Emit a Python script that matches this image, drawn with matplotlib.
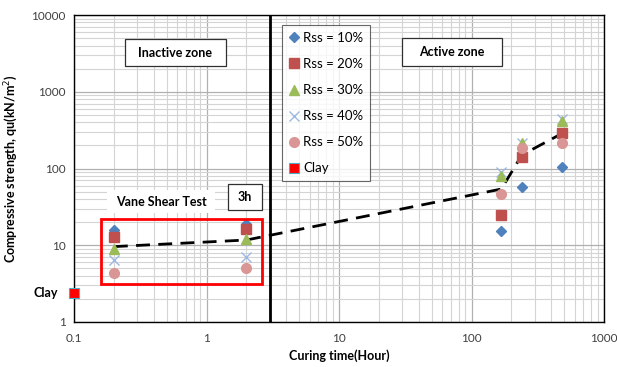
import matplotlib
matplotlib.use("Agg")
import matplotlib.pyplot as plt
from matplotlib.patches import Rectangle
from matplotlib.ticker import LogLocator, NullFormatter, FixedLocator, FixedFormatter

plt.rcParams['font.family'] = ['Lato', 'DejaVu Sans']

time = [0.2, 2, 168, 240, 480]
rss10 = [15.8, 19.0, 15.3, 58, 104]
rss20 = [12.7, 16.1, 24.8, 141, 288]
rss30 = [8.9, 12.2, 80, 217, 410]
rss40 = [6.4, 7.1, 89, 215, 440]
rss50 = [4.3, 5.0, 46.5, 183, 215]
clay_t = [0.1]
clay_q = [2.4]
trend_t = [0.2, 2, 168, 240, 480]
trend_q = [9.6, 11.7, 54, 150, 285]
xticks = [0.1, 1, 10, 100, 1000]
xticklabels = ['0.1', '1', '10', '100', '1000']
yticks = [1, 10, 100, 1000, 10000]
yticklabels = ['1', '10', '100', '1000', '10000']

fig = plt.figure(figsize=(6.17, 3.67), dpi=100)
ax = fig.add_axes([74/617, 45/367, 530/617, 307/367])
ax.set_xscale('log')
ax.set_yscale('log')
ax.set_xlim(0.1, 1000)
ax.set_ylim(1, 10000)

ax.xaxis.set_major_locator(FixedLocator(xticks))
ax.xaxis.set_major_formatter(FixedFormatter(xticklabels))
ax.yaxis.set_major_locator(FixedLocator(yticks))
ax.yaxis.set_major_formatter(FixedFormatter(yticklabels))
ax.xaxis.set_minor_locator(LogLocator(base=10, subs=range(2, 10), numticks=20))
ax.yaxis.set_minor_locator(LogLocator(base=10, subs=range(2, 10), numticks=20))
ax.xaxis.set_minor_formatter(NullFormatter())
ax.yaxis.set_minor_formatter(NullFormatter())
ax.grid(True, which='major', color='#b0b0b0', lw=0.9)
ax.grid(True, which='minor', color='#d4d4d4', lw=0.8)
ax.set_axisbelow(True)
ax.tick_params(which='both', length=0, labelsize=8.5, colors='#404040')
ax.tick_params(axis='x', pad=8)
ax.tick_params(axis='y', pad=6)
for s in ax.spines.values():
    s.set_color('black')
    s.set_linewidth(1.0)

ax.axvline(3, color='black', lw=2, zorder=2)
ax.plot(trend_t, trend_q, color='black', lw=2, ls=(0, (5, 3)), zorder=3)

ax.plot(time, rss10, ls='none', marker='D', ms=5.5, color='#4F81BD', label='Rss = 10%', zorder=4)
ax.plot(time, rss20, ls='none', marker='s', ms=6.8, color='#C0504D', label='Rss = 20%', zorder=4)
ax.plot(time, rss30, ls='none', marker='^', ms=7, color='#9BBB59', label='Rss = 30%', zorder=4)
ax.plot(time, rss40, ls='none', marker='x', ms=7, mew=1.0, color='#9DB8E3', label='Rss = 40%', zorder=3.9)
ax.plot(time, rss50, ls='none', marker='o', ms=7, color='#D99694', label='Rss = 50%', zorder=4)
ax.plot(clay_t, clay_q, ls='none', marker='s', ms=7, color='#FF0000', mec='#4BACC6', mew=0.8,
        label='Clay', zorder=5, clip_on=False)

leg = ax.legend(loc='upper left', bbox_to_anchor=(282.3/617, (367-25.3)/367),
                bbox_transform=fig.transFigure, frameon=True, fancybox=False,
                fontsize=9.5, handlelength=0.8, handletextpad=0.3, labelspacing=1.07,
                borderpad=0.5, borderaxespad=0)
leg.get_frame().set_edgecolor('#404040')
leg.get_frame().set_linewidth(0.8)

def fx(px):
    return px / 617
def fy(py):
    return (367 - py) / 367

# red rectangle
ax.add_patch(Rectangle((fx(100.7), fy(284.3)), fx(262) - fx(100.7), fy(218.7) - fy(284.3),
                       transform=fig.transFigure, fill=False, edgecolor='#FF0000', lw=2, zorder=6))

# Inactive zone box
fig.patches.append(Rectangle((fx(125), fy(66)), fx(225.7) - fx(125), fy(39.3) - fy(66),
                             transform=fig.transFigure, fc='white', ec='#303030', lw=0.9, zorder=7))
fig.text(fx(175.3), fy(52.7), 'Inactive zone', ha='center', va='center', fontsize=9,
         fontweight='bold', zorder=8)
fig.patches.append(Rectangle((fx(402), fy(66)), fx(501.7) - fx(402), fy(38.3) - fy(66),
                             transform=fig.transFigure, fc='white', ec='#303030', lw=0.9, zorder=7))
fig.text(fx(451.8), fy(52.2), 'Active zone', ha='center', va='center', fontsize=9,
         fontweight='bold', zorder=8)
# 3h box
fig.patches.append(Rectangle((fx(228), fy(210)), fx(262) - fx(228), fy(184) - fy(210),
                             transform=fig.transFigure, fc='white', ec='#303030', lw=0.9, zorder=7))
fig.text(fx(245), fy(197), '3h', ha='center', va='center', fontsize=9, fontweight='bold', zorder=8)
# Vane shear test label (white background)
fig.patches.append(Rectangle((fx(106.7), fy(213)), fx(215) - fx(106.7), fy(190) - fy(213),
                             transform=fig.transFigure, fc='white', ec='none', zorder=7))
fig.text(fx(161), fy(201.5), 'Vane Shear Test', ha='center', va='center', fontsize=9,
         fontweight='bold', zorder=8)

fig.text(fx(46), fy(293), 'Clay', ha='center', va='center', fontsize=9, fontweight='bold')

ax.set_xlabel('Curing time(Hour)', fontsize=9, fontweight='bold', labelpad=4)
ax.set_ylabel('Compressive strength, qu(kN/m$^2$)', fontsize=9, fontweight='bold', labelpad=8)

fig.savefig('out.png', dpi=100)
